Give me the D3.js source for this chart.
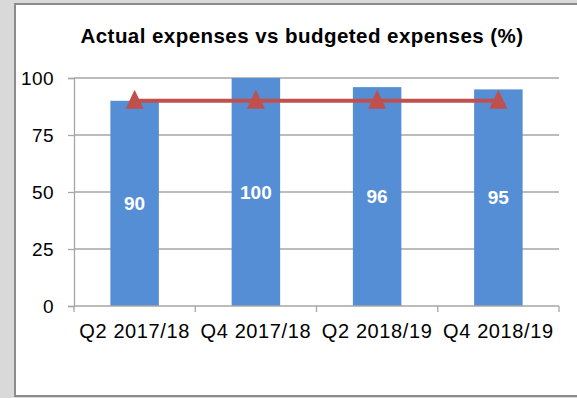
<!DOCTYPE html>
<html>
<head>
<meta charset="utf-8">
<script src="https://cdn.jsdelivr.net/npm/d3@7"></script>
<style>
  html, body { margin: 0; padding: 0; background: #d9d9d9; }
  svg { display: block; font-family: Arial, "Liberation Sans", sans-serif; }
</style>
</head>
<body>
<div id="chart"></div>
<script>
// values
const categories = ["Q2 2017/18", "Q4 2017/18", "Q2 2018/19", "Q4 2018/19"];
const actual = [90, 100, 96, 95];
const budget = [90, 90, 90, 90];
const yTicks = [0, 25, 50, 75, 100];

const W = 577, H = 398;
const svg = d3.select("#chart").append("svg").attr("width", W).attr("height", H);

// chart frame (white card with grey border, runs off the right edge)
svg.append("rect")
  .attr("x", 15).attr("y", 4).attr("width", W).attr("height", 392)
  .attr("fill", "#fff").attr("stroke", "#8c8c8c").attr("stroke-width", 2);

const margin = { left: 74, right: 18, top: 78, bottom: 92 };
const x = d3.scaleBand().domain(categories).range([margin.left, W - margin.right]).paddingInner(0.6).paddingOuter(0.3);
const xOuter = d3.scaleBand().domain(categories).range([margin.left, W - margin.right]);
const y = d3.scaleLinear().domain([0, 100]).range([H - margin.bottom, margin.top]);

// gridlines
svg.append("g").selectAll("line").data(yTicks.filter(d => d > 0)).enter().append("line")
  .attr("x1", margin.left).attr("x2", W - margin.right)
  .attr("y1", d => y(d)).attr("y2", d => y(d))
  .attr("stroke", "#a6a6a6").attr("stroke-width", 1.3);

// y axis
const yAxis = svg.append("g").attr("transform", `translate(${margin.left},0)`)
  .call(d3.axisLeft(y).tickValues(yTicks).tickSize(6).tickPadding(14));
yAxis.select(".domain").attr("stroke", "#a6a6a6").attr("stroke-width", 1.3);
yAxis.selectAll(".tick line").attr("stroke", "#a6a6a6").attr("stroke-width", 1.3);
yAxis.selectAll(".tick text").attr("font-size", 19).attr("fill", "#000")
  .attr("letter-spacing", 0.4)
  .attr("font-family", "Arial, 'Liberation Sans', sans-serif");

// bars
svg.append("g").selectAll("rect").data(actual).enter().append("rect")
  .attr("x", (d, i) => x(categories[i]))
  .attr("width", x.bandwidth())
  .attr("y", d => y(d))
  .attr("height", d => y(0) - y(d))
  .attr("fill", "#558ed5");

// x axis with ticks at category boundaries
const xAxisG = svg.append("g");
xAxisG.append("line")
  .attr("x1", margin.left).attr("x2", W - margin.right)
  .attr("y1", y(0)).attr("y2", y(0))
  .attr("stroke", "#a6a6a6").attr("stroke-width", 1.3);
const bounds = categories.map(c => xOuter(c)).concat([W - margin.right]);
xAxisG.selectAll("line.tk").data(bounds).enter().append("line")
  .attr("class", "tk")
  .attr("x1", d => d).attr("x2", d => d)
  .attr("y1", y(0)).attr("y2", y(0) + 6)
  .attr("stroke", "#a6a6a6").attr("stroke-width", 1.3);
xAxisG.selectAll("text").data(categories).enter().append("text")
  .attr("x", d => xOuter(d) + xOuter.bandwidth() / 2)
  .attr("y", y(0) + 32)
  .attr("text-anchor", "middle")
  .attr("font-size", 20)
  .attr("letter-spacing", 0.6)
  .text(d => d);

// budget line with triangle markers
const cx = (d, i) => x(categories[i]) + x.bandwidth() / 2;
svg.append("path")
  .attr("d", d3.line().x(cx).y(d => y(d))(budget))
  .attr("fill", "none").attr("stroke", "#c0504d").attr("stroke-width", 4);
svg.append("g").selectAll("path").data(budget).enter().append("path")
  .attr("transform", (d, i) => `translate(${cx(d, i)},${y(d) - 1})`)
  .attr("d", "M0,-10 L9,9 L-9,9 Z")
  .attr("fill", "#c0504d");

// value labels, centred in bars
svg.append("g").selectAll("text").data(actual).enter().append("text")
  .attr("x", (d, i) => x(categories[i]) + x.bandwidth() / 2)
  .attr("y", d => y(d / 2))
  .attr("dy", "0.35em")
  .attr("text-anchor", "middle")
  .attr("font-size", 19).attr("font-weight", "bold")
  .attr("fill", "#fff")
  .text(d => d);

// title
svg.append("text")
  .attr("x", 302).attr("y", 43)
  .attr("text-anchor", "middle")
  .attr("font-size", 20.5).attr("font-weight", "bold")
  .attr("letter-spacing", 0.45)
  .text("Actual expenses vs budgeted expenses (%)");
</script>
</body>
</html>
